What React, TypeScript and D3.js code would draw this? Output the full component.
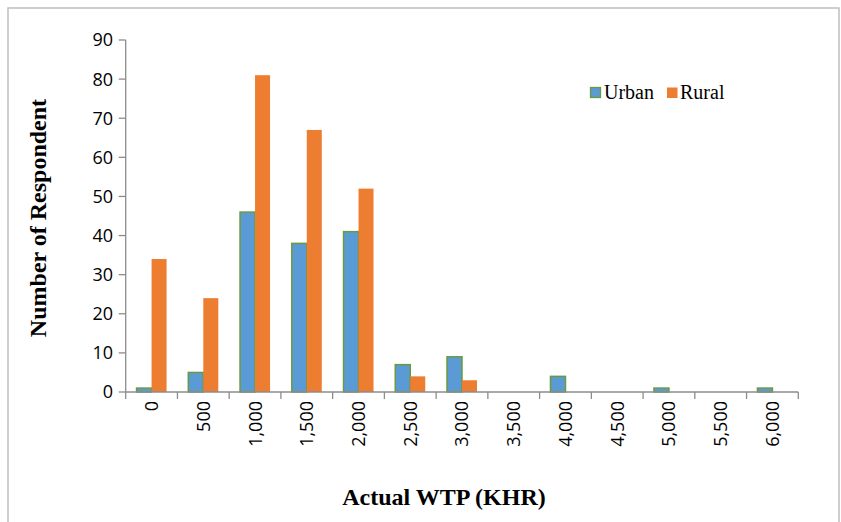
import React from "react";
import * as d3 from "d3";

const categories = ["0", "500", "1,000", "1,500", "2,000", "2,500", "3,000", "3,500", "4,000", "4,500", "5,000", "5,500", "6,000"];
const urbanValues = [1, 5, 46, 38, 41, 7, 9, 0, 4, 0, 1, 0, 1];
const ruralValues = [34, 24, 81, 67, 52, 4, 3, 0, 0, 0, 0, 0, 0];
const yTicks = [0, 10, 20, 30, 40, 50, 60, 70, 80, 90];
const seriesNames = ["Urban", "Rural"];

const W = 841;
const H = 522;
const left = 125.7;
const right = 798.3;
const top = 40;
const bottom = 392;

export default function App() {
  const x = d3.scaleBand<string>().domain(categories).range([left, right]).paddingInner(0).paddingOuter(0);
  const xs = d3.scaleBand<string>().domain(seriesNames).range([0, x.bandwidth()]).paddingInner(0).paddingOuter(0.725);
  const y = d3.scaleLinear().domain([0, 90]).range([bottom, top]);
  const axisColor = "#8c8c8c";
  const tickFont = "'Open Sans', sans-serif";
  const serif = "'Liberation Serif', 'Times New Roman', serif";
  const colors: Record<string, string> = { Urban: "#5b9bd5", Rural: "#ed7d31" };
  const boundaries = categories.map((c) => x(c)!).concat([right]);

  return (
    <svg width={W} height={H} style={{ position: "absolute", left: 0, top: 0, background: "#fff" }}>
      <rect x={8} y={8} width={831} height={530} fill="#fff" stroke="#bfbfbf" strokeWidth={1.5} />
      {/* bars */}
      {categories.map((c, i) => (
        <g key={c}>
          {urbanValues[i] > 0 && (
            <rect
              x={x(c)! + xs("Urban")!}
              y={y(urbanValues[i])}
              width={xs.bandwidth()}
              height={bottom - y(urbanValues[i])}
              fill={colors.Urban}
              stroke="#6a9a3e"
              strokeWidth={1.5}
            />
          )}
          {ruralValues[i] > 0 && (
            <rect
              x={x(c)! + xs("Rural")!}
              y={y(ruralValues[i])}
              width={xs.bandwidth()}
              height={bottom - y(ruralValues[i])}
              fill={colors.Rural}
            />
          )}
        </g>
      ))}
      {/* y axis */}
      <line x1={left} x2={left} y1={top} y2={bottom} stroke={axisColor} strokeWidth={1.3} />
      {yTicks.map((t) => (
        <g key={t}>
          <line x1={left - 7} x2={left} y1={y(t)} y2={y(t)} stroke={axisColor} strokeWidth={1.3} />
          <text x={113} y={y(t)} dy="0.36em" textAnchor="end" fontFamily={tickFont} fontSize={18} fill="#000">
            {t}
          </text>
        </g>
      ))}
      {/* x axis */}
      <line x1={left} x2={right} y1={bottom} y2={bottom} stroke={axisColor} strokeWidth={1.3} />
      {boundaries.map((b, i) => (
        <line key={i} x1={b} x2={b} y1={bottom} y2={bottom + 7} stroke={axisColor} strokeWidth={1.3} />
      ))}
      {categories.map((c) => (
        <text
          key={c}
          transform={`translate(${x(c)! + x.bandwidth() / 2},${401}) rotate(-90)`}
          dy="0.36em"
          textAnchor="end"
          fontFamily={tickFont}
          fontSize={18}
          fill="#000"
        >
          {c}
        </text>
      ))}
      {/* axis titles */}
      <text
        transform={`translate(46,${218}) rotate(-90)`}
        textAnchor="middle"
        fontFamily={serif}
        fontWeight="bold"
        fontSize={24}
        fill="#000"
      >
        Number of Respondent
      </text>
      <text x={444} y={505} textAnchor="middle" fontFamily={serif} fontWeight="bold" fontSize={24} fill="#000">
        Actual WTP (KHR)
      </text>
      {/* legend */}
      <g>
        <rect x={590.5} y={87.5} width={10} height={10} fill={colors.Urban} stroke="#6a9a3e" strokeWidth={1.3} />
        <text x={604} y={99} fontFamily={serif} fontSize={20} fill="#000">Urban</text>
        <rect x={667} y={87.5} width={10.5} height={10.5} fill={colors.Rural} />
        <text x={680} y={99} fontFamily={serif} fontSize={20} fill="#000">Rural</text>
      </g>
    </svg>
  );
}
